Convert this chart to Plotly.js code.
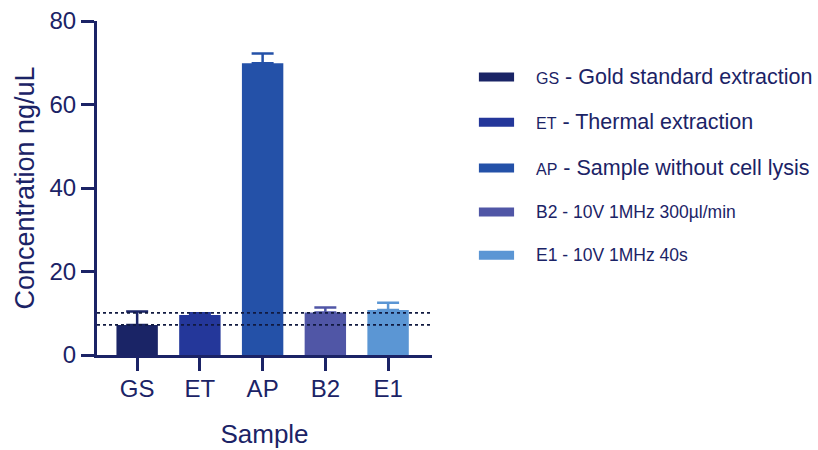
<!DOCTYPE html>
<html>
<head>
<meta charset="utf-8">
<script src="https://cdn.plot.ly/plotly-3.0.1.min.js"></script>
<style>html,body{margin:0;padding:0;background:#fff;}#chart{width:818px;height:450px;}</style>
</head>
<body>
<div id="chart"></div>
<script>
var categories = ["GS", "ET", "AP", "B2", "E1"];
var means = [7.2, 9.6, 69.9, 10.2, 10.8];
var errUp = [3.2, 0.4, 2.3, 1.2, 1.7];
var colors = ["#1a2466", "#24379a", "#2451a8", "#5056a6", "#5b96d4"];
var legendPrefix = ["GS", "ET", "AP", "B2", "E1"];
var legendText = [" - Gold standard extraction", " - Thermal extraction", " - Sample without cell lysis", " - 10V 1MHz 300\u00b5l/min", " - 10V 1MHz 40s"];
var legendBig = [true, true, true, false, false];
var refLines = [7.2, 10.1];
var yTicks = [0, 20, 40, 60, 80];

var navy = "#1b2366";
var font = "Liberation Sans, Arial, sans-serif";

var traces = categories.map(function (c, i) {
  return {
    type: "bar",
    x: [c],
    y: [means[i]],
    width: 0.66,
    marker: { color: colors[i], line: { width: 0 } },
    error_y: {
      type: "data", symmetric: false, array: [errUp[i]], arrayminus: [0],
      color: colors[i], thickness: 2.5, width: 11
    },
    showlegend: false,
    hoverinfo: "skip"
  };
});

var shapes = refLines.map(function (v) {
  return {
    type: "line", xref: "paper", yref: "y", x0: 0, x1: 1, y0: v, y1: v,
    line: { color: "#111a40", width: 1.8, dash: "dot" }, layer: "above"
  };
});

var annotations = [];
var legY = [0.832, 0.697, 0.560, 0.428, 0.299];
categories.forEach(function (c, i) {
  shapes.push({
    type: "line", xref: "paper", yref: "paper",
    x0: 1.140, x1: 1.245, y0: legY[i], y1: legY[i],
    line: { color: colors[i], width: 9 }
  });
  var txt = legendBig[i]
    ? '<span style="font-size:16px">' + legendPrefix[i] + '</span>' + legendText[i]
    : legendPrefix[i] + legendText[i];
  annotations.push({
    xref: "paper", yref: "paper", x: 1.305, y: legY[i],
    xanchor: "left", yanchor: "middle", showarrow: false,
    text: txt,
    font: { family: font, size: legendBig[i] ? 21.5 : 17.5, color: navy }
  });
});

var layout = {
  width: 818, height: 450,
  margin: { l: 97, r: 386, t: 21, b: 95 },
  paper_bgcolor: "#ffffff", plot_bgcolor: "#ffffff",
  barmode: "overlay",
  showlegend: false,
  font: { family: font, color: navy },
  xaxis: {
    type: "category",
    categoryorder: "array", categoryarray: categories,
    range: [-0.64, 4.70],
    showline: true, linecolor: navy, linewidth: 3,
    ticks: "outside", ticklen: 13, tickwidth: 3, tickcolor: navy,
    ticklabelstandoff: -3,
    showgrid: false, zeroline: false,
    tickfont: { family: font, size: 24, color: navy },
    title: { text: "Sample", font: { family: font, size: 26, color: navy }, standoff: 25 },
    automargin: false
  },
  yaxis: {
    range: [0, 80],
    tickvals: yTicks,
    showline: true, linecolor: navy, linewidth: 3,
    ticks: "outside", ticklen: 13, tickwidth: 3, tickcolor: navy,
    showgrid: false, zeroline: false,
    tickfont: { family: font, size: 24, color: navy },
    title: { text: "Concentration ng/uL", font: { family: font, size: 27, color: navy }, standoff: 8 },
    automargin: false
  },
  shapes: shapes,
  annotations: annotations
};

Plotly.newPlot("chart", traces, layout, { displayModeBar: false, staticPlot: true });
</script>
</body>
</html>
